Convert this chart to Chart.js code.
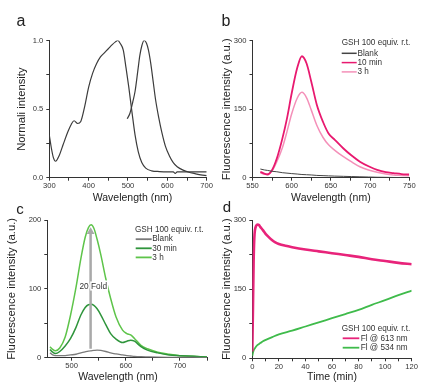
<!DOCTYPE html>
<html><head><meta charset="utf-8">
<script src="https://cdn.jsdelivr.net/npm/chart.js@4.4.1/dist/chart.umd.min.js"></script>
<style>
html,body{margin:0;padding:0;background:#fff;}
#wrap{position:relative;width:441px;height:392px;overflow:hidden;}
canvas{position:absolute;left:0;top:0;}
</style></head><body>
<div id="wrap">
<canvas id="ca" width="441" height="392"></canvas>
<canvas id="cb" width="441" height="392"></canvas>
<canvas id="cc" width="441" height="392"></canvas>
<canvas id="cd" width="441" height="392"></canvas>
</div>
<script>
// ---------- DATA ----------
// Panel a: normalized absorption and emission
const aAbsWl  = [300,305,310,316,325,335,348,356,363,372,380,390,400,410,420,430,440,450,460,468,474,480,488,495,502,510,518,526,535,545,560,580,600,615,620,625,650,700];
const aAbsVal = [0.31,0.22,0.15,0.12,0.16,0.24,0.34,0.39,0.415,0.395,0.41,0.52,0.66,0.76,0.83,0.88,0.91,0.94,0.97,0.99,1.00,0.98,0.93,0.80,0.66,0.48,0.31,0.19,0.11,0.07,0.05,0.045,0.043,0.042,0.032,0.042,0.043,0.042];
const aEmWl   = [498,505,512,518,525,530,535,541,547,552,558,564,570,578,586,595,605,615,625,640,655,670,685,700];
const aEmVal  = [0.43,0.47,0.55,0.63,0.78,0.89,0.96,1.00,0.98,0.93,0.83,0.70,0.57,0.44,0.33,0.23,0.16,0.11,0.08,0.055,0.04,0.03,0.02,0.015];
const aXTicks = [300,350,400,450,500,550,600,650,700];
const aXLabels = [300,400,500,600,700];
const aYTicks = [0,0.25,0.5,0.75,1.0];
const aYLabels = [0,0.5,1.0];

// Panel b: red emission
const bWl    = [560,565,569,575,581,588,594,600,607,613,619,625,632,640,647,655,666,676,687,698,709,720,730,740,750];
const b10min = [13,9,7,17,42,85,130,185,240,266,250,210,160,122,97,83,64,49,35,25,17,12,10,8,7];
const b3h    = [11,8,8,15,35,65,101,140,174,187,175,148,115,88,72,60,46,35,24,17,12,8,6,5,4];
const bBlank = [19,17,16,14,13,11,10,9,8,7,6.5,6,5,4.5,4,3.5,3,2.5,2,1.5,1,0.8,0.5,0.3,0];
const bXTicks = [550,575,600,625,650,675,700,725,750];
const bXLabels = [550,600,650,700,750];
const bYTicks = [0,75,150,225,300];
const bYLabels = [0,150,300];

// Panel c: green emission
const cWl     = [460,465,470,478,488,498,508,517,525,531,536,541,547,554,563,572,582,594,602,609,616,628,640,659,680,700,725,750];
const c3h     = [16,12,10,14,30,62,102,144,175,189,193,188,172,149,115,86,59,40,35,33,28,18,13,8,5,3,2,1];
const c30min  = [12,8,6,9,17,28,44,62,73,77,77.5,76,71,62,48,35,27,22,24,25.5,24,16,11,7,4,3,2,1];
const cBlank  = [7,4,3,3,3,4,5,7,8.5,9.5,10,10.5,11,10.5,9,7,5.5,4,3,2.5,2,1.5,1.2,0.8,0.6,0.5,0.3,0.2];
const cArrowX = 535, cArrowFrom = 13, cArrowTo = 183;
const cXTicks = [500,550,600,650,700,750];
const cXLabels = [500,600,700];
const cYTicks = [0,50,100,150,200];
const cYLabels = [0,100,200];

// Panel d: time course
const dTime613 = [0,0.5,1,1.5,2,3,4,5,6,8,10,12,15,17,20,25,30,40,50,60,70,80,90,100,110,120];
const dFl613   = [15,110,210,260,278,288,290,289,285,278,270,264,256,252,248,244,241,236,232,228,224,220,215,211,207,204];
const dTime534 = [0,0.5,1,2,4,6,8,11,15,20,30,40,50,60,70,80,90,100,110,120];
const dFl534   = [5,12,17,22,29,33,37,41,46,52,60,69,78,87,96,105,116,126,137,147];
const dXTicks = [0,10,20,30,40,50,60,70,80,90,100,110,120];
const dXLabels = [0,20,40,60,80,100,120];
const dYTicks = [0,75,150,225,300];
const dYLabels = [0,150,300];

// ---------- HELPERS ----------
const FONT = "'Liberation Sans', Arial, Helvetica, sans-serif";
Chart.defaults.font.family = FONT;
Chart.defaults.color = '#333';

const pts = (xs, ys) => xs.map((x, i) => ({x, y: ys[i]}));

const deco = {
  id: 'deco',
  afterDatasetsDraw(chart, args, o) {
    const ctx = chart.ctx;
    ctx.save();
    ctx.textBaseline = 'middle';
    (o.texts || []).forEach(t => {
      ctx.font = `${t.size}px ${FONT}`;
      ctx.textAlign = t.align || 'center';
      if (t.halo) { ctx.strokeStyle = '#fff'; ctx.lineWidth = 3; ctx.strokeText(t.text, t.x, t.y); }
      ctx.fillStyle = t.color || '#222';
      ctx.fillText(t.text, t.x, t.y);
    });
    if (o.legend) {
      const L = o.legend;
      ctx.font = `${L.size}px ${FONT}`;
      ctx.textAlign = 'left';
      ctx.fillStyle = '#333';
      ctx.fillText(L.header, L.hx, L.hy);
      chart.data.datasets.filter(d => d.label && !d.hideInLegend)
        .sort((p, q) => p.legendIndex - q.legendIndex)
        .forEach((d, i) => {
          const y = L.y0 + i * L.dy;
          ctx.strokeStyle = d.borderColor;
          ctx.lineWidth = L.lw;
          ctx.beginPath(); ctx.moveTo(L.x1, y); ctx.lineTo(L.x2, y); ctx.stroke();
          ctx.fillStyle = '#333';
          ctx.fillText(d.label, L.tx, y);
        });
    }
    ctx.restore();
  }
};

function scaleCfg(which, s) {
  return {
    type: 'linear', position: which === 'x' ? 'bottom' : 'left',
    min: s.min, max: s.max,
    afterBuildTicks: sc => { sc.ticks = s.ticks.map(v => ({value: v})); },
    afterFit: sc => { if (which === 'x') sc.height = s.size; else sc.width = s.size; },
    grid: { drawOnChartArea: false, drawTicks: true, tickLength: 3, color: '#333', lineWidth: 1 },
    border: { display: true, color: '#333', width: 1 },
    ticks: { font: {size: 7.6}, color: '#333', padding: s.tpad, maxRotation: 0, autoSkip: false,
      callback: v => s.labels.includes(v) ? s.fmt(v) : '' },
    title: s.title ? { display: true, text: s.title, font: {size: s.tsize}, color: '#222', padding: 0 } : {display: false}
  };
}

function makeChart(id, P) {
  return new Chart(document.getElementById(id), {
    type: 'line',
    data: { datasets: P.datasets },
    options: {
      responsive: false, animation: false, events: [],
      layout: { padding: P.pad },
      plugins: { legend: {display: false}, tooltip: {enabled: false}, deco: P.deco },
      elements: { point: { radius: 0 }, line: { cubicInterpolationMode: 'monotone', borderWidth: 1.3 } },
      scales: { x: scaleCfg('x', P.x), y: scaleCfg('y', P.y) }
    },
    plugins: [deco]
  });
}

const intFmt = v => String(v);

// ---------- PANEL A ----------
makeChart('ca', {
  pad: {left: 14.9, top: 40.5, right: 234.3, bottom: 194.3},
  x: {min: 300, max: 700, ticks: aXTicks, labels: aXLabels, fmt: intFmt, size: 20, tpad: 1},
  y: {min: 0, max: 1, ticks: aYTicks, labels: aYLabels, fmt: v => v.toFixed(1), size: 34.4, tpad: 3,
      title: 'Normali intensity', tsize: 11.3},
  datasets: [
    {label: '', data: pts(aAbsWl, aAbsVal), borderColor: '#3c3c3c', borderWidth: 1.2},
    {label: '', data: pts(aEmWl, aEmVal), borderColor: '#3c3c3c', borderWidth: 1.2}
  ],
  deco: {texts: [
    {text: 'a', x: 21, y: 22, size: 16},
    {text: 'Wavelength (nm)', x: 132.5, y: 198, size: 10.5}
  ]}
});

// ---------- PANEL B ----------
makeChart('cb', {
  pad: {left: 220.5, top: 40.7, right: 31.7, bottom: 187.7},
  x: {min: 550, max: 750, ticks: bXTicks, labels: bXLabels, fmt: intFmt, size: 26.6, tpad: 1,
      title: 'Wavelength (nm)', tsize: 10.5},
  y: {min: 0, max: 300, ticks: bYTicks, labels: bYLabels, fmt: intFmt, size: 32, tpad: 3,
      title: 'Fluorescence intensity (a.u.)', tsize: 11.3},
  datasets: [
    {label: 'Blank', legendIndex: 0, data: pts(bWl, bBlank), borderColor: '#444444', borderWidth: 1},
    {label: '10 min', legendIndex: 1, data: pts(bWl, b10min), borderColor: '#e8196f', borderWidth: 1.8},
    {label: '3 h', legendIndex: 2, data: pts(bWl, b3h), borderColor: '#f490b9', borderWidth: 1.5}
  ],
  deco: {
    texts: [{text: 'b', x: 226, y: 21.5, size: 16}],
    legend: {header: 'GSH 100 equiv. r.t.', size: 8.2, hx: 341.7, hy: 42.3, y0: 53.3, dy: 9.3,
             x1: 341.7, x2: 356.7, tx: 357.5, lw: 1.5}
  }
});

// ---------- PANEL C ----------
makeChart('cc', {
  pad: {left: 4.9, top: 220, right: 234, bottom: 14.3},
  x: {min: 455, max: 750, ticks: cXTicks, labels: cXLabels, fmt: intFmt, size: 20, tpad: 1},
  y: {min: 0, max: 200, ticks: cYTicks, labels: cYLabels, fmt: intFmt, size: 42.4, tpad: 3,
      title: 'Fluorescence intensity (a.u.)', tsize: 11.3},
  datasets: [
    {label: '', hideInLegend: true, data: [{x: cArrowX, y: cArrowFrom}, {x: cArrowX, y: cArrowTo}],
     borderColor: '#a9a9a9', borderWidth: 2.5, tension: 0, cubicInterpolationMode: 'default',
     pointRadius: [0, 4.5], pointStyle: 'triangle', pointBackgroundColor: '#a9a9a9', pointBorderWidth: 0},
    {label: 'Blank', legendIndex: 0, data: pts(cWl, cBlank), borderColor: '#7a7a7a', borderWidth: 1.3},
    {label: '30 min', legendIndex: 1, data: pts(cWl, c30min), borderColor: '#2f953c', borderWidth: 1.5},
    {label: '3 h', legendIndex: 2, data: pts(cWl, c3h), borderColor: '#5ec44a', borderWidth: 1.5}
  ],
  deco: {
    texts: [
      {text: 'c', x: 20, y: 210, size: 15},
      {text: '20 Fold', x: 93.3, y: 286.7, size: 8.3, halo: true, color: '#333'},
      {text: 'Wavelength (nm)', x: 118, y: 377, size: 10.5}
    ],
    legend: {header: 'GSH 100 equiv. r.t.', size: 8.2, hx: 135, hy: 230, y0: 239.2, dy: 9.1,
             x1: 135.7, x2: 151.7, tx: 152.3, lw: 1.8}
  }
});

// ---------- PANEL D ----------
makeChart('cd', {
  pad: {left: 219.9, top: 220, right: 29.3, bottom: 8.7},
  x: {min: 0, max: 120, ticks: dXTicks, labels: dXLabels, fmt: intFmt, size: 25, tpad: 1,
      title: 'Time (min)', tsize: 10.5},
  y: {min: 0, max: 300, ticks: dYTicks, labels: dYLabels, fmt: intFmt, size: 32.4, tpad: 3,
      title: 'Fluorescence intensity (a.u.)', tsize: 11.3},
  datasets: [
    {label: 'Fl @ 613 nm', legendIndex: 0, data: pts(dTime613, dFl613), borderColor: '#e8237a', borderWidth: 2.6},
    {label: 'Fl @ 534 nm', legendIndex: 1, data: pts(dTime534, dFl534), borderColor: '#3fbb4b', borderWidth: 1.8}
  ],
  deco: {
    texts: [{text: 'd', x: 227, y: 208, size: 15}],
    legend: {header: 'GSH 100 equiv. r.t.', size: 8.2, hx: 341.7, hy: 328.3, y0: 338.3, dy: 9.4,
             x1: 342.7, x2: 359.3, tx: 360.7, lw: 1.8}
  }
});
</script>
</body></html>
